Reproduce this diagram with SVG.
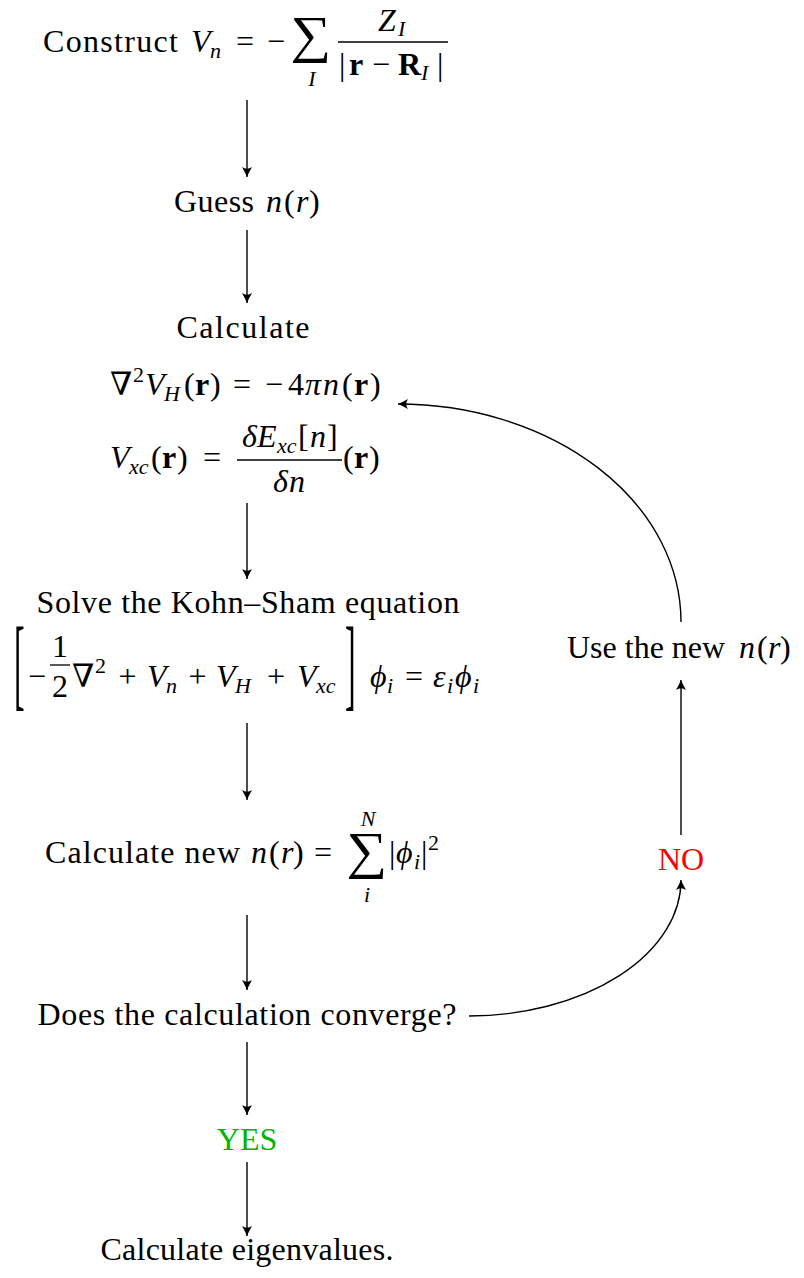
<svg xmlns="http://www.w3.org/2000/svg" width="804" height="1278" viewBox="0 0 804 1278">
<defs>
<style>
.t{font-family:"Liberation Serif","DejaVu Serif",serif;font-size:32px;fill:#000}
.i{font-style:italic}
.b{font-weight:bold}
.s{font-size:22px}
.m{text-anchor:middle}
.sum{font-size:52px}
.bar{stroke:#000;stroke-width:1.3}
.c{fill:none;stroke:#000;stroke-width:1.4}
</style>
<marker id="ah" viewBox="-11 -6 12 12" refX="0" refY="0" markerWidth="12" markerHeight="12" markerUnits="userSpaceOnUse" orient="auto">
<path d="M0,0 Q-4,-1.6 -10,-5 Q-6.5,0 -10,5 Q-4,1.6 0,0 Z" fill="#000"/>
</marker>
</defs>
<rect width="804" height="1278" fill="#fff"/>

<g id="connectors">
<path class="c" d="M247,100 V177" marker-end="url(#ah)"/>
<path class="c" d="M247,230 V303" marker-end="url(#ah)"/>
<path class="c" d="M247,503 V579" marker-end="url(#ah)"/>
<path class="c" d="M247,723 V800" marker-end="url(#ah)"/>
<path class="c" d="M247,915 V990" marker-end="url(#ah)"/>
<path class="c" d="M247,1042 V1115" marker-end="url(#ah)"/>
<path class="c" d="M247,1162 V1236" marker-end="url(#ah)"/>
<path class="c" d="M469,1016 A213,136 0 0 0 681,880" marker-end="url(#ah)"/>
<path class="c" d="M681,835 V680" marker-end="url(#ah)"/>
<path class="c" d="M681,622 A283,218 0 0 0 398,404" marker-end="url(#ah)"/>
</g>

<g id="n-construct">
<text class="t" x="43" y="52" textLength="135">Construct</text>
<text class="t i" x="191" y="52">V</text>
<text class="t i s" x="210" y="58">n</text>
<text class="t m" x="245" y="52">=</text>
<text class="t m" x="276" y="52">−</text>
<text class="t sum m" transform="translate(311,52) scale(1.1,1)">∑</text>
<text class="t i s m" x="312" y="86">I</text>
<text class="t i" x="378" y="31">Z</text>
<text class="t i s" x="398" y="36">I</text>
<line class="bar" x1="338" y1="42" x2="448" y2="42"/>
<text class="t" x="339" y="75">|</text>
<text class="t b" x="349" y="75">r</text>
<text class="t" x="372" y="75">−</text>
<text class="t b" x="398" y="75">R</text>
<text class="t i s" x="421" y="80">I</text>
<text class="t" x="437" y="75">|</text>
</g>

<g id="n-guess">
<text class="t" x="174" y="212" textLength="80">Guess</text>
<text class="t i" x="266" y="212">n</text>
<text class="t" x="284" y="212">(</text>
<text class="t i" x="296" y="212">r</text>
<text class="t" x="309" y="212">)</text>
</g>

<g id="n-calculate">
<text class="t m" x="243" y="338" textLength="133">Calculate</text>
<text class="t" x="110" y="395">∇</text>
<text class="t s" x="133" y="382">2</text>
<text class="t i" x="145" y="395">V</text>
<text class="t i s" x="164" y="401">H</text>
<text class="t" x="184" y="395">(</text>
<text class="t b" x="195" y="395">r</text>
<text class="t" x="210" y="395">)</text>
<text class="t m" x="242" y="395">=</text>
<text class="t m" x="274" y="395">−</text>
<text class="t" x="288" y="395">4</text>
<text class="t i" x="305" y="395">π</text>
<text class="t i" x="323" y="395">n</text>
<text class="t" x="342" y="395">(</text>
<text class="t b" x="354" y="395">r</text>
<text class="t" x="370" y="395">)</text>

<text class="t i" x="110" y="468">V</text>
<text class="t i s" x="129" y="474">xc</text>
<text class="t" x="151" y="468">(</text>
<text class="t b" x="162" y="468">r</text>
<text class="t" x="177" y="468">)</text>
<text class="t m" x="212" y="468">=</text>
<text class="t i" x="242" y="447">δ</text>
<text class="t i" x="257" y="447">E</text>
<text class="t i s" x="277" y="453">xc</text>
<text class="t" x="298" y="447">[</text>
<text class="t i" x="310" y="447">n</text>
<text class="t" x="327" y="447">]</text>
<line class="bar" x1="237" y1="460" x2="342" y2="460"/>
<text class="t i" x="273" y="492">δ</text>
<text class="t i" x="289" y="492">n</text>
<text class="t" x="343" y="468">(</text>
<text class="t b" x="354" y="468">r</text>
<text class="t" x="369" y="468">)</text>
</g>

<g id="n-solve">
<text class="t m" x="248" y="613" textLength="423">Solve the Kohn–Sham equation</text>
<text class="t" transform="translate(14,697) scale(1,3.15)">[</text>
<text class="t" x="28" y="687">−</text>
<text class="t m" x="60" y="657">1</text>
<line class="bar" x1="50" y1="665" x2="70" y2="665"/>
<text class="t m" x="60" y="697">2</text>
<text class="t" x="72" y="687">∇</text>
<text class="t s" x="95" y="673">2</text>
<text class="t m" x="127.5" y="687">+</text>
<text class="t i" x="147" y="687">V</text>
<text class="t i s" x="166" y="693">n</text>
<text class="t m" x="197.5" y="687">+</text>
<text class="t i" x="216" y="687">V</text>
<text class="t i s" x="235" y="693">H</text>
<text class="t m" x="276" y="687">+</text>
<text class="t i" x="297" y="687">V</text>
<text class="t i s" x="316" y="693">xc</text>
<text class="t" transform="translate(345,697) scale(1,3.15)">]</text>
<text class="t i" x="370" y="687">ϕ</text>
<text class="t i s" x="387" y="693">i</text>
<text class="t m" x="414" y="687">=</text>
<text class="t i" x="433" y="687">ε</text>
<text class="t i s" x="447" y="693">i</text>
<text class="t i" x="455" y="687">ϕ</text>
<text class="t i s" x="473" y="693">i</text>
</g>

<g id="n-newdensity">
<text class="t" x="45" y="863" textLength="195">Calculate new</text>
<text class="t i" x="251" y="863">n</text>
<text class="t" x="269" y="863">(</text>
<text class="t i" x="281" y="863">r</text>
<text class="t" x="293" y="863">)</text>
<text class="t m" x="323" y="863">=</text>
<text class="t sum m" transform="translate(367,868) scale(1.1,1)">∑</text>
<text class="t i s m" x="368" y="826">N</text>
<text class="t i s m" x="367" y="902">i</text>
<text class="t" x="389" y="863">|</text>
<text class="t i" x="396" y="863">ϕ</text>
<text class="t i s" x="414" y="869">i</text>
<text class="t" x="421" y="863">|</text>
<text class="t s" x="428" y="850">2</text>
</g>

<g id="n-converge">
<text class="t m" x="247" y="1025" textLength="419">Does the calculation converge?</text>
</g>

<g id="n-yes">
<text class="t m" x="247" y="1150" style="fill:#00b400">YES</text>
</g>

<g id="n-eigen">
<text class="t m" x="247" y="1260" textLength="293">Calculate eigenvalues.</text>
</g>

<g id="n-no">
<text class="t m" x="681" y="870" style="fill:#ff0000">NO</text>
</g>

<g id="n-use">
<text class="t" x="567" y="658">Use the new</text>
<text class="t i" x="739" y="658">n</text>
<text class="t" x="757" y="658">(</text>
<text class="t i" x="768" y="658">r</text>
<text class="t" x="780" y="658">)</text>
</g>
</svg>
